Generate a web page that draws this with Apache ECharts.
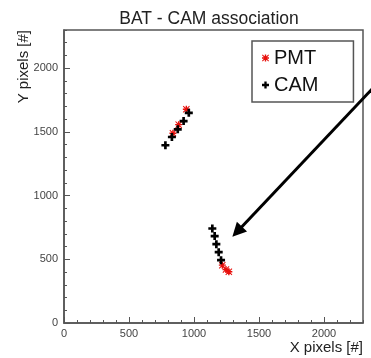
<!DOCTYPE html>
<html>
<head>
<meta charset="utf-8">
<script src="https://cdn.jsdelivr.net/npm/echarts@6/dist/echarts.min.js"></script>
<style>
html,body{margin:0;padding:0;background:#fff;}
#chart{width:371px;height:358px;}
</style>
</head>
<body>
<div id="chart"></div>
<script>
// ---- data ----
const titleText = 'BAT - CAM association';
const xTitle = 'X pixels [#]';
const yTitle = 'Y pixels [#]';
const seriesNames = ['PMT', 'CAM'];
const pmtX = [838, 882, 941, 1218, 1246, 1268];
const pmtY = [1489, 1557, 1678, 454, 420, 402];
const camX = [780, 830, 875, 920, 960, 1141, 1159, 1172, 1190, 1208];
const camY = [1395, 1460, 1520, 1585, 1650, 742, 682, 619, 556, 493];
const arrowFrom = [2400, 1870];
const arrowTo = [1332, 717];
const axisMin = 0;
const axisMax = 2300;
const majorInterval = 500;
const minorInterval = 100;

const FONT = 'Liberation Sans, Arial, Helvetica, sans-serif';
const AXC = '#555';

const plusPath = 'path://M3,0H6V3H9V6H6V9H3V6H0V3H3Z';
const starPath = 'path://M4,0H6V4H10V6H6V10H4V6H0V4H4Z M0,1L1,0L5,3.87L9,0L10,1L6.13,5L10,9L9,10L5,6.13L1,10L0,9L3.87,5Z';

function zip(a, b) { return a.map((v, i) => [v, b[i]]); }

function mainAxis(isX) {
  return {
    type: 'value', min: axisMin, max: axisMax, interval: majorInterval,
    position: isX ? 'bottom' : 'left',
    axisLine: { show: true, lineStyle: { color: AXC, width: 1.5 } },
    axisTick: { show: true, inside: true, length: 6, lineStyle: { color: AXC, width: 1 } },
    axisLabel: { show: true, color: '#444', fontSize: 11, fontFamily: FONT, margin: isX ? 5 : 6, showMaxLabel: false,
      formatter: function (v) { return String(v); } },
    splitLine: { show: false },
    name: isX ? xTitle : yTitle,
    nameLocation: 'end',
    nameGap: 0,
    nameMoveOverlap: false,
    nameRotate: isX ? 0 : 90,
    nameTextStyle: isX
      ? { fontSize: 15, fontFamily: FONT, color: '#222', align: 'right', verticalAlign: 'top', padding: [17, 0, 0, 0] }
      : { fontSize: 15, fontFamily: FONT, color: '#222', align: 'right', verticalAlign: 'bottom', padding: [0, 0, 33, 0] }
  };
}
function minorAxis(isX) {
  return {
    type: 'value', min: axisMin, max: axisMax, interval: minorInterval,
    position: isX ? 'bottom' : 'left',
    axisLine: { show: false },
    axisTick: { show: true, inside: true, length: 3, lineStyle: { color: AXC, width: 1 } },
    axisLabel: { show: false },
    splitLine: { show: false }
  };
}

const chart = echarts.init(document.getElementById('chart'), null, { renderer: 'canvas' });
chart.setOption({
  animation: false,
  backgroundColor: '#fff',
  title: {
    text: titleText, left: 209, top: 10, padding: 0, textAlign: 'center',
    textStyle: { fontSize: 17.5, fontWeight: 'normal', color: '#222', fontFamily: FONT }
  },
  grid: { left: 64, right: 8, top: 30, bottom: 35, show: true, borderColor: AXC, borderWidth: 1.5,
    backgroundColor: 'transparent', outerBoundsMode: 'none', containLabel: false },
  xAxis: [mainAxis(true), minorAxis(true)],
  yAxis: [mainAxis(false), minorAxis(false)],
  legend: {
    data: seriesNames, orient: 'vertical', left: 252, top: 41,
    backgroundColor: '#fff', borderColor: AXC, borderWidth: 1.5, borderRadius: 0,
    padding: [7, 35, 7, 10], itemGap: 7, itemWidth: 7, itemHeight: 7,
    textStyle: { fontSize: 20, fontFamily: FONT, color: '#111', lineHeight: 20 }
  },
  series: [
    {
      name: seriesNames[0], type: 'scatter', data: zip(pmtX, pmtY),
      symbol: starPath, symbolSize: 7, symbolKeepAspect: true,
      itemStyle: { color: '#e8100c', opacity: 1 }, z: 3
    },
    {
      name: seriesNames[1], type: 'scatter', data: zip(camX, camY),
      symbol: plusPath, symbolSize: 8, symbolKeepAspect: true,
      itemStyle: { color: '#000', opacity: 1 }, z: 4
    },
    {
      name: 'arrow', type: 'lines', coordinateSystem: 'cartesian2d', clip: false,
      data: [{ coords: [arrowFrom, arrowTo] }],
      symbol: ['none', 'path://M5,0L10,14L0,14Z'], symbolSize: 14,
      lineStyle: { color: '#000', width: 3, opacity: 1, curveness: 0 },
      itemStyle: { color: '#000' }, z: 5, silent: true
    }
  ]
});
</script>
</body>
</html>
